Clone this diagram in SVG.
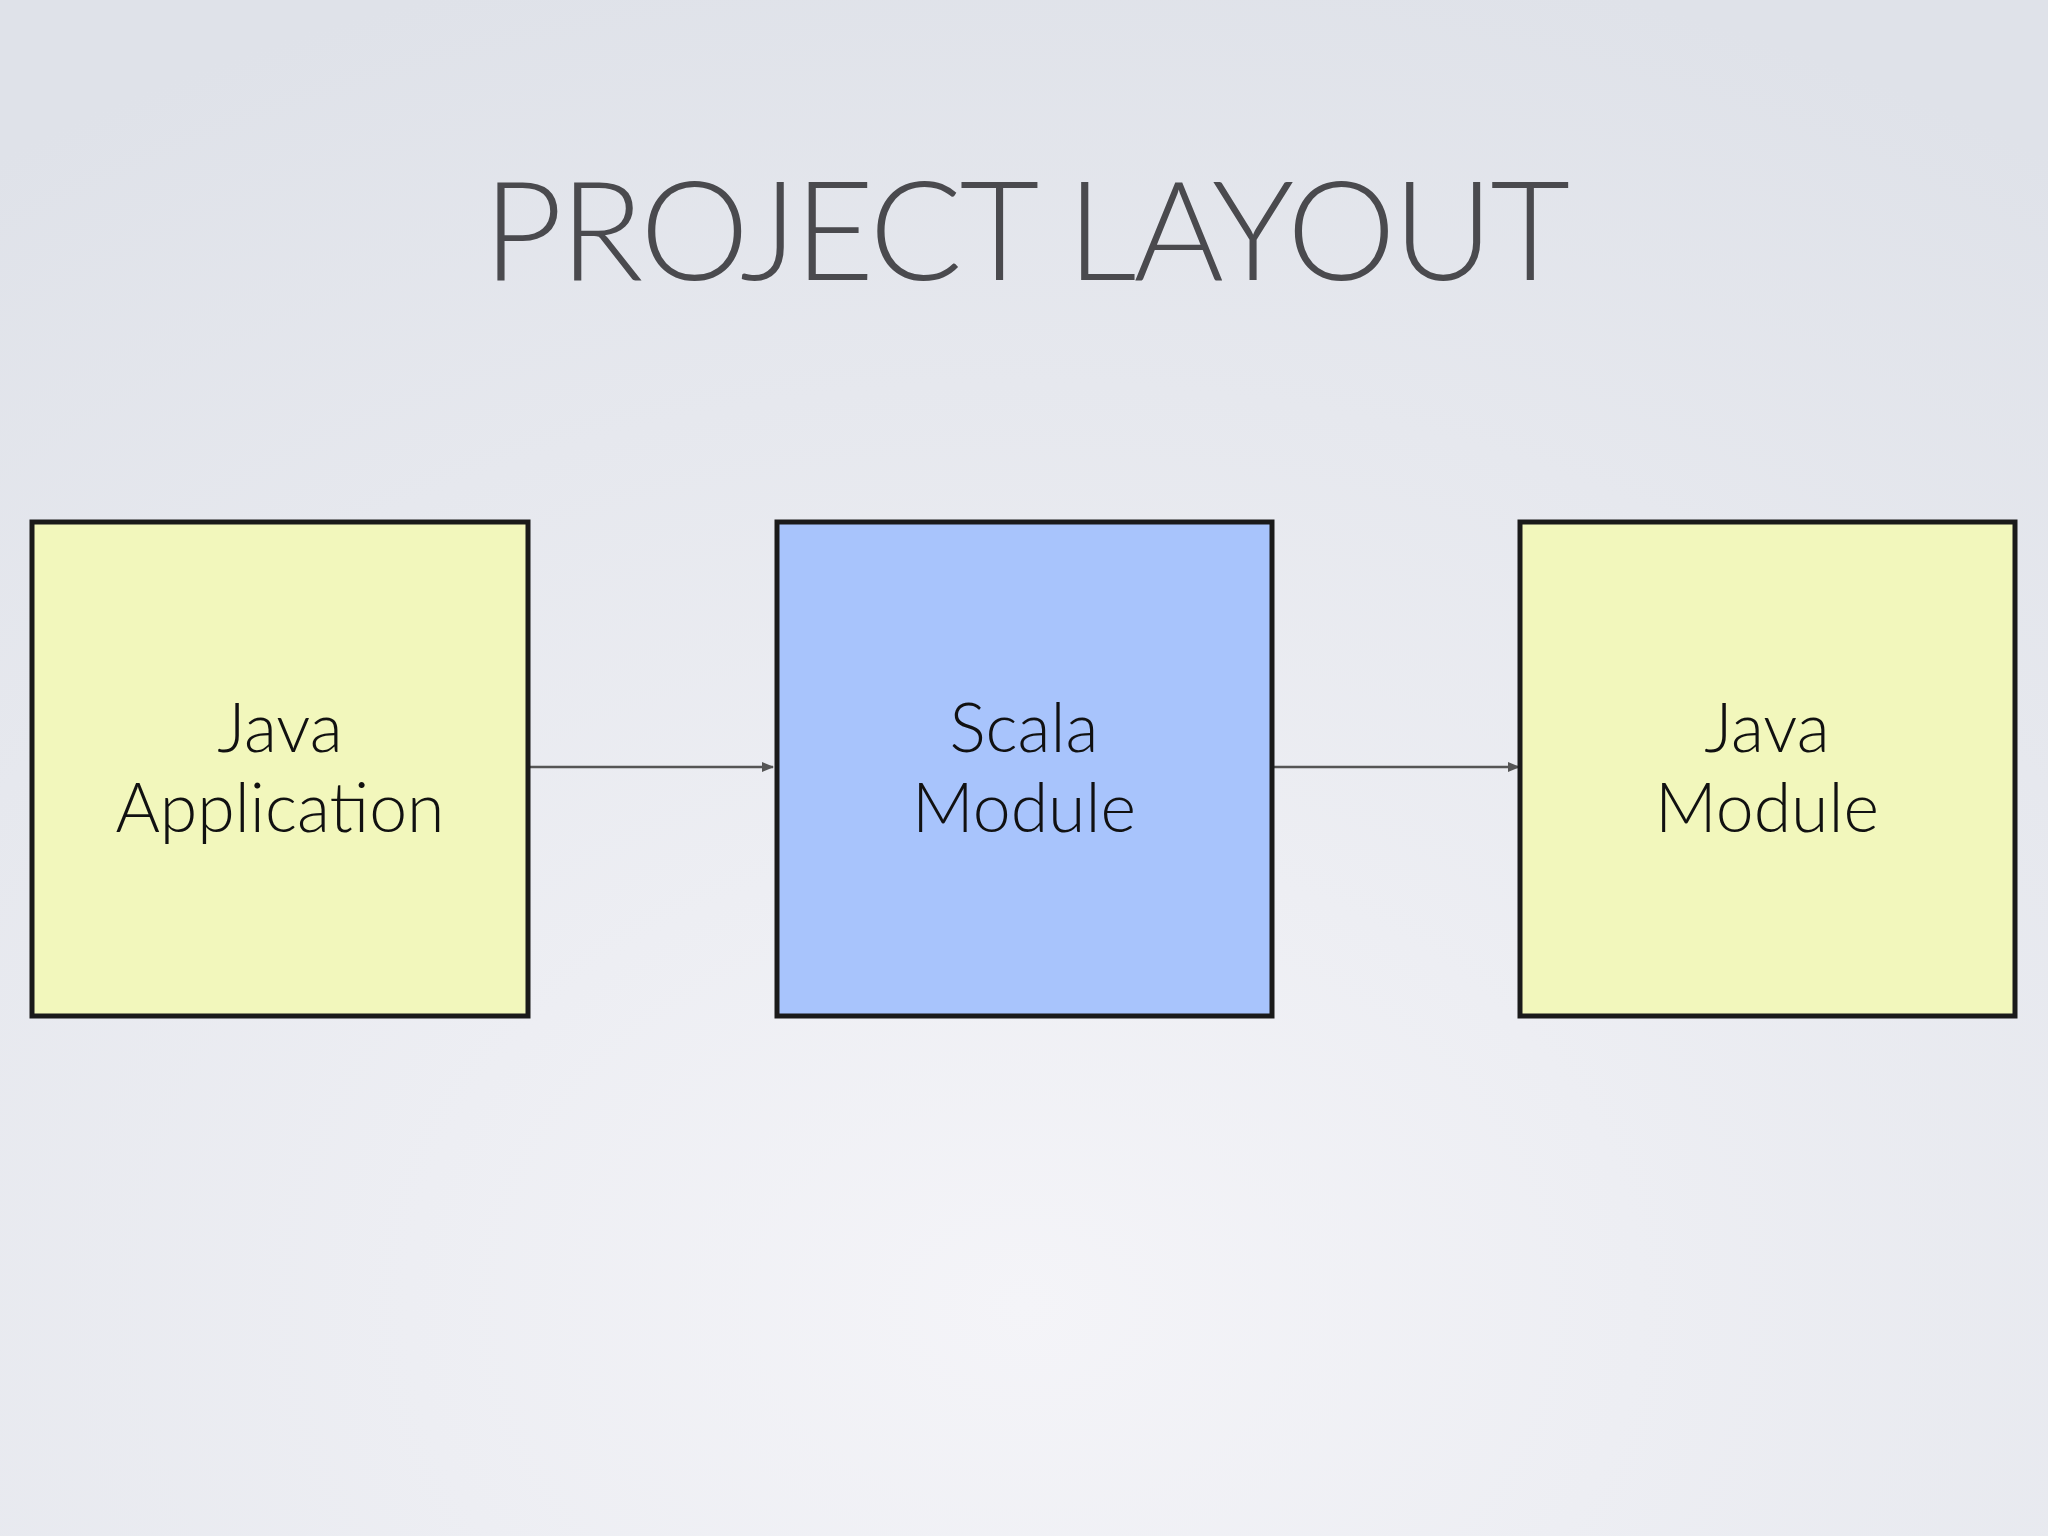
<svg xmlns="http://www.w3.org/2000/svg" width="2048" height="1536" viewBox="0 0 2048 1536">
<defs>
<radialGradient id="bg" cx="0.5" cy="0.85" r="0.9">
<stop offset="0" stop-color="#f4f4f8"/>
<stop offset="1" stop-color="#dfe2e9"/>
</radialGradient>
<marker id="ah" markerWidth="12" markerHeight="10" refX="11" refY="5" orient="auto" markerUnits="userSpaceOnUse">
<path d="M0,0 L12,5 L0,10 Z" fill="#555"/>
</marker>
<style>
.box{stroke:#1a1a1a;stroke-width:5}
.y{fill:#f2f7bc}
.b{fill:#a8c4fc}
.t{font-family:Lato,"Liberation Sans",sans-serif;font-weight:300;fill:#111;font-size:68px;text-anchor:middle}
.c{stroke:#555;stroke-width:2.5;fill:none}
</style>
</defs>
<rect width="2048" height="1536" fill="url(#bg)"/>
<text x="1025" y="280" font-family="Lato,'Liberation Sans',sans-serif" font-weight="300" font-size="138" fill="#4a4a4e" text-anchor="middle" letter-spacing="-3">PROJECT LAYOUT</text>
<g id="connectors">
<line class="c" x1="528" y1="767" x2="773" y2="767" marker-end="url(#ah)"/>
<line class="c" x1="1273" y1="767" x2="1519" y2="767" marker-end="url(#ah)"/>
</g>
<g id="java-app">
<rect class="box y" x="32" y="522" width="496" height="494"/>
<text class="t" x="280" y="752">Java</text>
<text class="t" x="280" y="832">Application</text>
</g>
<g id="scala-module">
<rect class="box b" x="777" y="522" width="495" height="494"/>
<text class="t" x="1024" y="752">Scala</text>
<text class="t" x="1024" y="832">Module</text>
</g>
<g id="java-module">
<rect class="box y" x="1520" y="522" width="495" height="494"/>
<text class="t" x="1767" y="752">Java</text>
<text class="t" x="1767" y="832">Module</text>
</g>
</svg>
